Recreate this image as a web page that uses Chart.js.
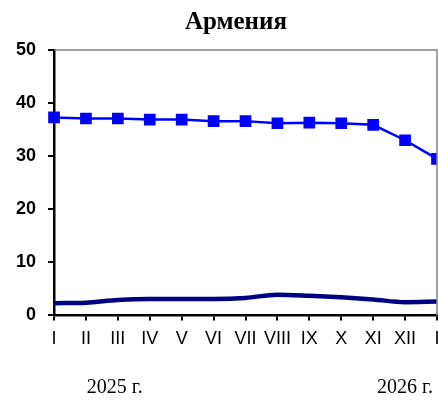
<!DOCTYPE html>
<html><head><meta charset="utf-8">
<script src="https://cdn.jsdelivr.net/npm/chart.js@4/dist/chart.umd.min.js"></script>
<style>html,body{margin:0;padding:0;background:#fff}</style>
</head><body>
<canvas id="c" width="438" height="402"></canvas>
<script>
const titleText = 'Армения';
const months = ['I','II','III','IV','V','VI','VII','VIII','IX','X','XI','XII','I'];
const seriesTop = [37.3, 37.1, 37.1, 36.9, 36.9, 36.6, 36.6, 36.2, 36.3, 36.2, 35.9, 33.0, 29.5];
const seriesBottom = [2.3, 2.4, 2.9, 3.1, 3.1, 3.1, 3.3, 3.9, 3.7, 3.4, 3.0, 2.5, 2.6];
const yMin = 0, yMax = 50, yStep = 10;
const yearLabels = ['2025 г.', '2026 г.'];
const yearLabelIndex = [1.9, 11];
const titleIndex = 5.7;

Chart.defaults.font.family = "'Liberation Sans', Arial, sans-serif";
Chart.defaults.color = '#000';

const extras = {
  id: 'extras',
  afterDraw(chart) {
    const ctx = chart.ctx, a = chart.chartArea, xs = chart.scales.x;
    ctx.save();
    ctx.strokeStyle = '#808080';
    ctx.lineWidth = 1.5;
    ctx.beginPath();
    ctx.moveTo(a.left, a.top);
    ctx.lineTo(a.right, a.top);
    ctx.lineTo(a.right, a.bottom);
    ctx.stroke();
    ctx.fillStyle = '#000';
    const step = xs.getPixelForValue(1) - xs.getPixelForValue(0);
    const x0 = xs.getPixelForValue(0);
    ctx.textAlign = 'center';
    ctx.textBaseline = 'alphabetic';
    ctx.font = "bold 25px 'Liberation Serif', 'Times New Roman', serif";
    ctx.fillText(titleText, x0 + titleIndex * step, a.top - 21);
    ctx.font = "20px 'Liberation Serif', 'Times New Roman', serif";
    ctx.textBaseline = 'middle';
    yearLabels.forEach((t, i) => {
      ctx.fillText(t, x0 + yearLabelIndex[i] * step, a.bottom + 72);
    });
    ctx.restore();
  }
};

new Chart(document.getElementById('c'), {
  type: 'line',
  data: {
    labels: months,
    datasets: [
      {
        data: seriesTop,
        borderColor: '#0000FF',
        backgroundColor: '#0000FF',
        borderWidth: 2.5,
        pointStyle: 'rect',
        pointRadius: 6.5,
        pointHoverRadius: 6.5,
        tension: 0,
        clip: {left: 10, top: 10, right: 0, bottom: 10}
      },
      {
        data: seriesBottom,
        borderColor: '#000080',
        backgroundColor: '#000080',
        borderWidth: 4.5,
        pointRadius: 0,
        cubicInterpolationMode: 'monotone',
        clip: {left: 10, top: 10, right: 0, bottom: 10}
      }
    ]
  },
  options: {
    responsive: false,
    animation: false,
    layout: { autoPadding: false, padding: { left: 4, right: 1, top: 50, bottom: 44 } },
    plugins: {
      legend: { display: false },
      tooltip: { enabled: false },
      title: { display: false }
    },
    scales: {
      x: {
        offset: false,
        afterFit(s) { s.paddingRight = 0; s.paddingLeft = 0; },
        grid: { display: true, drawOnChartArea: false, drawTicks: true, tickLength: 5, color: '#000', lineWidth: 2 },
        border: { display: true, color: '#000', width: 2.5 },
        ticks: { font: { size: 18 }, color: '#000', padding: 8, maxRotation: 0, autoSkip: false }
      },
      y: {
        min: yMin, max: yMax,
        grid: { display: true, drawOnChartArea: false, drawTicks: true, tickLength: 6, color: '#000', lineWidth: 2 },
        border: { display: true, color: '#000', width: 2.5 },
        ticks: { stepSize: yStep, font: { size: 18, weight: 'bold' }, color: '#000', padding: 12 }
      }
    }
  },
  plugins: [extras]
});
</script>
</body></html>
